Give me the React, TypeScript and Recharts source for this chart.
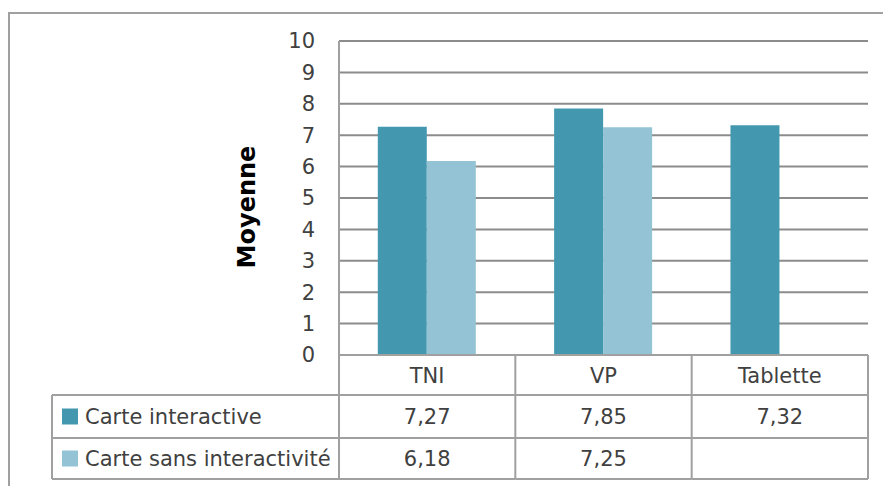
import { BarChart, Bar, XAxis, YAxis, CartesianGrid } from 'recharts';

// Categories and series (means, French decimal comma in the table)
const categories = ['TNI', 'VP', 'Tablette'];
const interactive = [7.27, 7.85, 7.32];
const nonInteractive: (number | null)[] = [6.18, 7.25, null];
const yTicks = [0, 1, 2, 3, 4, 5, 6, 7, 8, 9, 10];

const SERIES = [
  { key: 'interactive', name: 'Carte interactive', color: '#4398b0', values: interactive },
  { key: 'nonInteractive', name: 'Carte sans interactivité', color: '#93c3d5', values: nonInteractive },
];

const data = categories.map((cat, i) => ({
  cat,
  interactive: interactive[i],
  nonInteractive: nonInteractive[i],
}));

const W = 883;
const H = 486;
const PLOT_LEFT = 339;
const PLOT_RIGHT = 868;
const PLOT_TOP = 41;
const PLOT_BOTTOM = 355;
const Y_AXIS_W = 60;
const LEGEND_LEFT = 52;
const ROWS = [0, 40, 83, 124]; // table row edges below the x axis

const FONT = '"DejaVu Sans", Verdana, sans-serif';
const TEXT = '#404040';
const GRID = '#8c8c8c';
const BORDER = '#a0a0a0';

function fmt(v: number | null) {
  return v === null ? '' : v.toFixed(2).replace('.', ',');
}

// Each x tick draws one column of the data table under the chart
function TableTick(props: any) {
  const { x, y, payload } = props;
  const i = payload.index as number;
  const bw = (PLOT_RIGHT - PLOT_LEFT) / categories.length;
  const left = x - bw / 2;
  const right = x + bw / 2;
  const center = (a: number, b: number) => y + (ROWS[a] + ROWS[b]) / 2 + 7.5;
  return (
    <g fontFamily={FONT} fontSize={21} fill={TEXT}>
      <text x={x} y={center(0, 1)} textAnchor="middle">{categories[i]}</text>
      {SERIES.map((s, r) => (
        <text key={s.key} x={x} y={center(r + 1, r + 2)} textAnchor="middle">
          {fmt(s.values[i])}
        </text>
      ))}
      {ROWS.slice(1).map((dy) => (
        <line key={dy} x1={left} x2={right} y1={y + dy} y2={y + dy} stroke={BORDER} strokeWidth={2} />
      ))}
      <line x1={right} x2={right} y1={y} y2={y + ROWS[3]} stroke={BORDER} strokeWidth={2} />
      {i === 0 && (
        <g>
          <line x1={left} x2={left} y1={y} y2={y + ROWS[3]} stroke={BORDER} strokeWidth={2} />
          <line x1={LEGEND_LEFT} x2={LEGEND_LEFT} y1={y + ROWS[1]} y2={y + ROWS[3]} stroke={BORDER} strokeWidth={2} />
          {ROWS.slice(1).map((dy) => (
            <line key={dy} x1={LEGEND_LEFT} x2={left} y1={y + dy} y2={y + dy} stroke={BORDER} strokeWidth={2} />
          ))}
          {SERIES.map((s, r) => {
            const cy = y + (ROWS[r + 1] + ROWS[r + 2]) / 2;
            return (
              <g key={s.key}>
                <rect x={LEGEND_LEFT + 10} y={cy - 8} width={16} height={16} fill={s.color} />
                <text x={LEGEND_LEFT + 33} y={cy + 7.5}>{s.name}</text>
              </g>
            );
          })}
        </g>
      )}
    </g>
  );
}

function YTitle(props: any) {
  const { viewBox } = props;
  const cx = 247;
  const cy = viewBox.y + viewBox.height / 2 + 9;
  return (
    <text
      x={cx}
      y={cy}
      transform={`rotate(-90 ${cx} ${cy})`}
      textAnchor="middle"
      dominantBaseline="central"
      fontFamily={FONT}
      fontSize={24}
      fontWeight="bold"
      fill="#000"
    >
      Moyenne
    </text>
  );
}

export default function App() {
  return (
    <div style={{ position: 'absolute', left: 0, top: 0, width: W, height: H, background: '#fff', overflow: 'hidden' }}>
      <div
        style={{
          position: 'absolute',
          left: 8,
          top: 12,
          width: W,
          height: H,
          borderLeft: `2px solid ${BORDER}`,
          borderTop: `2px solid ${BORDER}`,
        }}
      />
      <div style={{ position: 'absolute', left: 0, top: 0 }}>
        <BarChart
          width={W}
          height={H}
          data={data}
          margin={{ top: PLOT_TOP, right: W - PLOT_RIGHT, bottom: 0, left: PLOT_LEFT - Y_AXIS_W }}
          barCategoryGap="22%"
          barGap={0}
        >
          <CartesianGrid vertical={false} stroke={GRID} strokeWidth={2} />
          <XAxis
            dataKey="cat"
            height={H - PLOT_BOTTOM}
            interval={0}
            tickSize={0}
            tickMargin={0}
            tickLine={false}
            axisLine={{ stroke: BORDER, strokeWidth: 2 }}
            tick={<TableTick />}
          />
          <YAxis
            width={Y_AXIS_W}
            domain={[0, 10]}
            ticks={yTicks}
            interval={0}
            tickSize={0}
            tickMargin={24}
            tickLine={false}
            axisLine={{ stroke: BORDER, strokeWidth: 2 }}
            tick={{ fill: TEXT, fontSize: 21, fontFamily: FONT }}
            label={<YTitle />}
          />
          {SERIES.map((s) => (
            <Bar key={s.key} dataKey={s.key} name={s.name} fill={s.color} isAnimationActive={false} />
          ))}
        </BarChart>
      </div>
    </div>
  );
}
